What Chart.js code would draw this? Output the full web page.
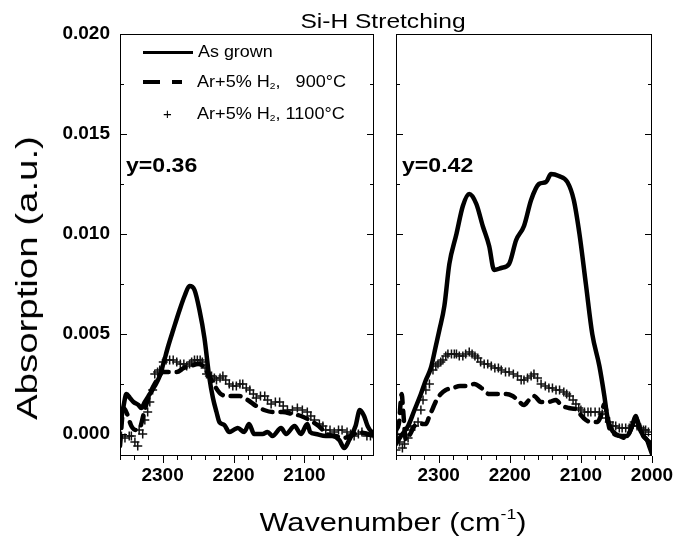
<!DOCTYPE html>
<html>
<head>
<meta charset="utf-8">
<title>Si-H Stretching</title>
<script src="https://cdn.jsdelivr.net/npm/chart.js@4.4.1/dist/chart.umd.min.js"></script>
<style>
  html, body { margin: 0; padding: 0; background: #fff; }
  #wrap {
    position: relative; width: 673px; height: 540px; overflow: hidden;
    font-family: "Liberation Sans", Arial, sans-serif; color: #000;
  }
  canvas { position: absolute; top: 0; }
  .txt { position: absolute; white-space: nowrap; line-height: 1; transform-origin: 0 0; }
  .leg-line { position: absolute; height: 0; }
  sub { font-size: 9px; vertical-align: -2px; line-height: 0; }
  sup { font-size: 15px; vertical-align: 12px; line-height: 0; }
</style>
</head>
<body>
<div id="wrap">
  <canvas id="leftChart" width="385" height="540" style="left:0"></canvas>
  <canvas id="rightChart" width="289" height="540" style="left:384px"></canvas>

  <div class="txt" id="title" style="left:383px; top:10px; font-size:21px; transform: translateX(-50%) scaleX(1.17); transform-origin: 50% 0;">Si-H Stretching</div>
  <div class="txt" id="yTitle" style="left:27px; top:278px; font-size:30px; transform: translate(-50%, -50%) rotate(-90deg) scaleX(1.28); transform-origin: 50% 50%;">Absorption (a.u.)</div>
  <div class="txt" id="xTitle" style="left:393px; top:509px; font-size:26px; transform: translateX(-50%) scaleX(1.18); transform-origin: 50% 0;">Wavenumber (cm<sup>-1</sup>)</div>

  <div class="leg-line" style="left:143px; top:51px; width:50px; border-top:3px solid #000;"></div>
  <div class="leg-line" style="left:143px; top:80px; width:17px; border-top:4px solid #000;"></div>
  <div class="leg-line" style="left:172px; top:80px; width:10px; border-top:4px solid #000;"></div>
  <div class="txt" style="left:163px; top:106px; font-size:15px;">+</div>
  <div class="txt" style="left:198px; top:44px; font-size:16px; transform: scaleX(1.12);">As grown</div>
  <div class="txt" style="left:197px; top:74px; font-size:16px; transform: scaleX(1.13);">Ar+5% H<sub>2</sub>,&nbsp;&nbsp;&nbsp;900°C</div>
  <div class="txt" style="left:197px; top:106px; font-size:16px; transform: scaleX(1.13);">Ar+5% H<sub>2</sub>, 1100°C</div>

  <div class="txt" style="left:126px; top:154px; font-size:21px; font-weight:bold; transform: scaleX(1.1);">y=0.36</div>
  <div class="txt" style="left:402px; top:154px; font-size:21px; font-weight:bold; transform: scaleX(1.1);">y=0.42</div>
</div>

<script>
// ========== DATA ==========
const X_MAX = 2360;
const Y_MIN = -0.0011;
const Y_MAX = 0.02;
const X_LABELS_LEFT = [2300, 2200, 2100];
const X_LABELS_RIGHT = [2300, 2200, 2100, 2000];
const Y_LABELS = [0, 0.005, 0.01, 0.015, 0.02];
const Y_MINOR = [0.0025, 0.0075, 0.0125, 0.0175];
const X_MINOR = [2360, 2340, 2320, 2280, 2260, 2240, 2220, 2180, 2160, 2140, 2120, 2080, 2060, 2040, 2020];

// y=0.36, as grown
const L_GROWN_WN = [2360, 2355, 2351, 2346, 2341, 2334, 2330, 2325, 2318, 2311, 2304, 2299, 2292, 2285, 2276, 2269, 2262, 2255, 2248, 2241, 2234, 2229, 2224, 2220, 2213, 2206, 2200, 2194, 2185, 2178, 2171, 2159, 2152, 2145, 2133, 2126, 2114, 2105, 2096, 2092, 2084, 2070, 2061, 2051, 2044, 2037, 2028, 2022, 2016, 2011, 2004, 2002];
const L_GROWN_ABS = [0.0004, 0.0014, 0.0020, 0.0018, 0.0016, 0.00145, 0.0013, 0.0016, 0.0020, 0.0024, 0.0029, 0.0035, 0.0044, 0.0052, 0.0062, 0.0069, 0.0074, 0.0072, 0.0062, 0.0048, 0.0028, 0.0018, 0.0011, 0.0006, 0.00045, 0.0001, 0.0002, 0.0003, 0.0001, 0.0005, 0.0000, 0.0000, 0.0001, -0.0001, 0.0003, 0.0000, 0.0004, 0.0000, 0.0005, 0.0001, 0.0000, -0.0001, -0.0001, -0.0003, -0.0007, -0.0003, 0.0004, 0.0012, 0.0009, 0.0004, 0.0001, 0.0001];

// y=0.36, Ar+5% H2 900 C
const L_900_WN = [2360, 2355, 2350, 2344, 2338, 2332, 2326, 2318, 2308, 2299, 2290, 2280, 2270, 2260, 2250, 2243, 2236, 2228, 2218, 2206, 2192, 2180, 2168, 2157, 2145, 2131, 2117, 2105, 2093, 2080, 2068, 2056, 2046, 2035, 2023, 2012, 2002];
const L_900_ABS = [-0.0006, 0.0013, 0.0010, 0.0004, 0.0002, 0.0003, 0.0011, 0.0020, 0.0027, 0.0031, 0.0031, 0.0031, 0.0033, 0.0034, 0.0035, 0.0034, 0.0030, 0.0025, 0.0020, 0.0019, 0.0019, 0.0017, 0.0014, 0.0012, 0.0011, 0.0011, 0.0010, 0.0009, 0.0007, 0.0004, 0.0000, -0.0001, -0.0002, -0.0001, 0.0001, 0.0000, -0.0001];

// y=0.36, Ar+5% H2 1100 C
const L_1100_WN = [2358, 2353, 2347, 2344, 2339, 2335, 2333, 2328, 2325, 2321, 2318, 2314, 2311, 2307, 2304, 2299, 2295, 2290, 2285, 2280, 2275, 2270, 2266, 2262, 2259, 2255, 2251, 2247, 2244, 2240, 2238, 2234, 2231, 2227, 2224, 2219, 2215, 2211, 2206, 2201, 2196, 2191, 2187, 2182, 2177, 2172, 2168, 2162, 2156, 2152, 2147, 2141, 2135, 2130, 2124, 2117, 2110, 2103, 2096, 2091, 2086, 2079, 2074, 2070, 2064, 2058, 2052, 2047, 2040, 2035, 2030, 2024, 2019, 2012, 2007, 2003];
const L_1100_ABS = [-0.0001, -0.0002, -0.0001, -0.0001, -0.0004, -0.0006, 0.0002, 0.0000, 0.0007, 0.0011, 0.0016, 0.0022, 0.0030, 0.0031, 0.0032, 0.0036, 0.0037, 0.0037, 0.0037, 0.0036, 0.0035, 0.0035, 0.0034, 0.0035, 0.0036, 0.0037, 0.0037, 0.0037, 0.0036, 0.0033, 0.0030, 0.0029, 0.0029, 0.0028, 0.0027, 0.0028, 0.0029, 0.0027, 0.0025, 0.0024, 0.0024, 0.0025, 0.0025, 0.0023, 0.0022, 0.0020, 0.0018, 0.0019, 0.0019, 0.0017, 0.0015, 0.0016, 0.0016, 0.0014, 0.0012, 0.0012, 0.0013, 0.0012, 0.0011, 0.0009, 0.0007, 0.0005, 0.0004, 0.0002, 0.0002, 0.0001, 0.0002, 0.0002, 0.0001, 0.0000, -0.0001, 0.0000, 0.0001, -0.0001, -0.0001, 0.0000];

// y=0.42, as grown
const R_GROWN_WN = [2360, 2353, 2343, 2334, 2325, 2318, 2311, 2304, 2299, 2292, 2285, 2275, 2266, 2257, 2247, 2238, 2229, 2222, 2212, 2201, 2191, 2180, 2170, 2159, 2149, 2142, 2131, 2119, 2110, 2102, 2093, 2084, 2074, 2067, 2063, 2058, 2051, 2042, 2035, 2028, 2023, 2019, 2012, 2007, 2004, 2000];
const R_GROWN_ABS = [-0.0005, -0.0001, 0.0004, 0.0012, 0.0020, 0.0027, 0.0033, 0.0044, 0.0052, 0.0064, 0.0085, 0.0100, 0.0114, 0.0120, 0.0115, 0.0104, 0.0094, 0.0082, 0.0083, 0.0085, 0.0097, 0.0104, 0.0117, 0.0125, 0.0126, 0.0130, 0.0129, 0.0126, 0.0117, 0.0100, 0.0075, 0.0050, 0.0034, 0.0019, 0.0009, 0.0003, 0.0000, -0.0001, -0.0001, 0.0004, 0.0009, 0.0004, -0.0001, -0.0003, -0.0006, -0.0010];

// y=0.42, Ar+5% H2 900 C
const R_900_WN = [2360, 2356, 2352, 2350, 2346, 2340, 2334, 2327, 2318, 2313, 2308, 2303, 2297, 2290, 2280, 2270, 2261, 2250, 2240, 2229, 2217, 2205, 2196, 2189, 2180, 2173, 2166, 2156, 2146, 2135, 2128, 2117, 2105, 2100, 2093, 2086, 2077, 2071, 2067, 2060, 2053, 2046, 2037, 2030, 2023, 2014, 2007, 2000];
const R_900_ABS = [0.0002, 0.0005, 0.0020, 0.0012, -0.0003, 0.0000, 0.0004, 0.0005, 0.0005, 0.0009, 0.0013, 0.0017, 0.0020, 0.0022, 0.0023, 0.0024, 0.0024, 0.0025, 0.0023, 0.0020, 0.0020, 0.0020, 0.0019, 0.0017, 0.00145, 0.0017, 0.0019, 0.0016, 0.0016, 0.0017, 0.00145, 0.0013, 0.0012, 0.00095, 0.0007, 0.0006, 0.0006, 0.0010, 0.0015, 0.0003, 0.0000, -0.0001, -0.0002, 0.0002, 0.0008, 0.0000, -0.0003, -0.0005];

// y=0.42, Ar+5% H2 1100 C
const R_1100_WN = [2360, 2358, 2355, 2351, 2348, 2343, 2339, 2334, 2329, 2325, 2322, 2318, 2313, 2308, 2304, 2301, 2297, 2294, 2290, 2287, 2282, 2278, 2275, 2271, 2266, 2262, 2257, 2253, 2249, 2245, 2241, 2236, 2231, 2226, 2221, 2216, 2212, 2206, 2201, 2195, 2189, 2184, 2180, 2175, 2170, 2166, 2161, 2156, 2150, 2145, 2140, 2135, 2130, 2124, 2120, 2116, 2111, 2107, 2103, 2100, 2095, 2090, 2086, 2080, 2074, 2070, 2065, 2060, 2055, 2051, 2046, 2042, 2037, 2032, 2028, 2025, 2021, 2016, 2012, 2009, 2005];
const R_1100_ABS = [-0.0008, 0.0000, -0.0004, -0.0007, -0.0005, -0.0002, 0.0002, 0.0004, 0.0006, 0.0012, 0.0017, 0.0022, 0.0025, 0.0032, 0.0034, 0.0035, 0.0036, 0.0037, 0.0039, 0.0040, 0.0040, 0.0040, 0.0040, 0.0039, 0.0039, 0.0040, 0.0041, 0.0040, 0.0039, 0.0038, 0.0036, 0.0035, 0.0035, 0.0034, 0.0033, 0.0033, 0.0032, 0.0031, 0.0031, 0.0030, 0.0029, 0.0027, 0.0027, 0.0028, 0.0029, 0.0030, 0.0028, 0.0025, 0.0024, 0.0023, 0.0023, 0.0022, 0.0022, 0.0021, 0.0020, 0.0019, 0.0017, 0.0015, 0.0013, 0.0012, 0.0011, 0.0011, 0.0011, 0.0011, 0.0011, 0.0010, 0.0008, 0.0006, 0.0004, 0.0004, 0.0003, 0.0003, 0.0003, 0.0003, 0.0004, 0.0006, 0.0004, 0.0003, 0.0002, 0.0002, 0.0001];

// ========== HELPERS ==========
const FONT_FAMILY = '"Liberation Sans", Arial, sans-serif';
const toPoints = (xs, ys) => xs.map((x, i) => ({ x, y: ys[i] }));

const grownSet = (xs, ys) => ({
  data: toPoints(xs, ys),
  borderColor: "#000",
  borderWidth: 4.5,
  pointRadius: 0,
  cubicInterpolationMode: "monotone",
  borderJoinStyle: "round",
  borderCapStyle: "round",
});

const annealSet = (xs, ys) => ({
  data: toPoints(xs, ys),
  borderColor: "#000",
  borderWidth: 4.5,
  borderDash: [10, 8],
  borderCapStyle: "round",
  pointRadius: 0,
  cubicInterpolationMode: "monotone",
});

const crossSet = (xs, ys) => ({
  data: toPoints(xs, ys),
  showLine: false,
  pointStyle: "cross",
  pointRadius: 4.5,
  pointBorderWidth: 1.5,
  pointBorderColor: "#111",
  pointBackgroundColor: "#111",
});

// frame + inward y ticks + outward x ticks
const framePlugin = {
  id: "frame",
  afterDraw(chart) {
    const { ctx, chartArea: a, scales } = chart;
    const x = scales.x;
    const y = scales.y;
    ctx.save();
    ctx.strokeStyle = "#000";
    ctx.lineWidth = 1;
    ctx.strokeRect(a.left + 0.5, a.top + 0.5, a.right - a.left - 1, a.bottom - a.top - 1);
    ctx.beginPath();
    [...Y_LABELS, ...Y_MINOR].forEach((v) => {
      const py = Math.round(y.getPixelForValue(v)) + 0.5;
      const len = Y_LABELS.includes(v) ? 7 : 4;
      ctx.moveTo(a.left, py);
      ctx.lineTo(a.left + len, py);
      ctx.moveTo(a.right, py);
      ctx.lineTo(a.right - len, py);
    });
    [...X_LABELS_RIGHT, ...X_MINOR].forEach((v) => {
      if (v < x.min || v > x.max) {
        return;
      }
      const px = Math.round(x.getPixelForValue(v)) + 0.5;
      const len = X_LABELS_RIGHT.includes(v) ? 7 : 4;
      ctx.moveTo(px, a.bottom);
      ctx.lineTo(px, a.bottom + len);
    });
    ctx.stroke();
    ctx.restore();
  },
};

// ========== CHARTS ==========
const makePanel = (canvasId, cfg) =>
  new Chart(document.getElementById(canvasId), {
    type: "line",
    data: { datasets: cfg.datasets },
    options: {
      responsive: false,
      animation: false,
      devicePixelRatio: 1,
      layout: { padding: { top: 34, right: cfg.padRight, bottom: 0, left: 0 } },
      plugins: { legend: { display: false }, tooltip: { enabled: false } },
      scales: {
        x: {
          type: "linear",
          reverse: true,
          min: cfg.xMin,
          max: X_MAX,
          grid: { display: false, drawTicks: false },
          border: { display: false },
          ticks: {
            color: "#000",
            padding: 8,
            maxRotation: 0,
            font: { family: FONT_FAMILY, size: 19, weight: "bold" },
            callback: (v) => String(v),
          },
          afterBuildTicks: (s) => {
            s.ticks = cfg.xLabels.map((v) => ({ value: v }));
          },
          afterFit: (s) => {
            s.height = 84;
            s.paddingLeft = 0;
            s.paddingRight = 0;
          },
        },
        y: {
          type: "linear",
          min: Y_MIN,
          max: Y_MAX,
          grid: { display: false, drawTicks: false },
          border: { display: false },
          ticks: {
            display: cfg.showY,
            color: "#000",
            padding: 10,
            font: { family: FONT_FAMILY, size: 19, weight: "bold" },
            callback: (v) => Number(v).toFixed(3),
          },
          afterBuildTicks: (s) => {
            s.ticks = Y_LABELS.map((v) => ({ value: v }));
          },
          afterFit: (s) => {
            s.width = cfg.yWidth;
          },
        },
      },
    },
    plugins: [framePlugin],
  });

makePanel("leftChart", {
  xMin: 2002,
  xLabels: X_LABELS_LEFT,
  showY: true,
  yWidth: 120,
  padRight: 11,
  datasets: [
    grownSet(L_GROWN_WN, L_GROWN_ABS),
    annealSet(L_900_WN, L_900_ABS),
    crossSet(L_1100_WN, L_1100_ABS),
  ],
});

makePanel("rightChart", {
  xMin: 2000,
  xLabels: X_LABELS_RIGHT,
  showY: false,
  yWidth: 12,
  padRight: 21,
  datasets: [
    grownSet(R_GROWN_WN, R_GROWN_ABS),
    annealSet(R_900_WN, R_900_ABS),
    crossSet(R_1100_WN, R_1100_ABS),
  ],
});
</script>
</body>
</html>
